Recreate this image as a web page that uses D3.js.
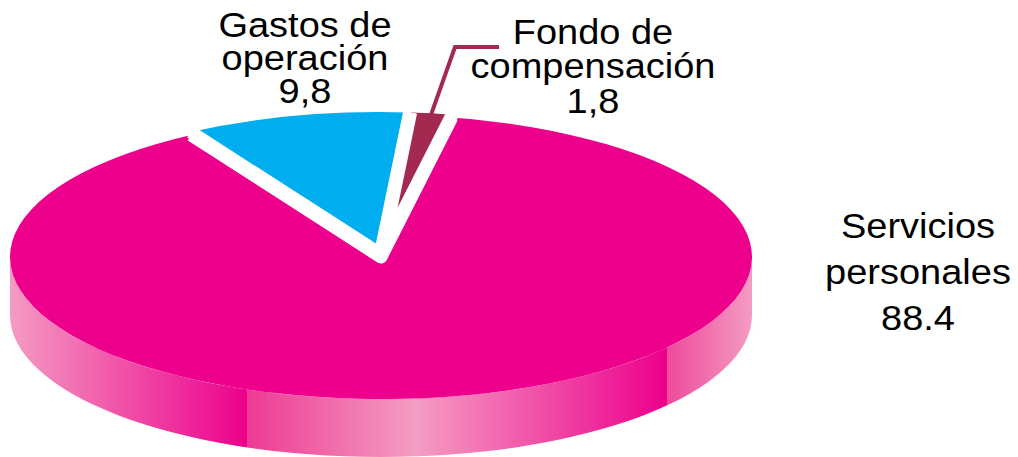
<!DOCTYPE html>
<html>
<head>
<meta charset="utf-8">
<title>Distribución del gasto</title>
<script src="https://d3js.org/d3.v7.min.js"></script>
<style>
  body { margin: 0; background: #fff; }
  text { font-family: "Liberation Sans", Arial, sans-serif; fill: #000; }
</style>
</head>
<body>
<svg id="chart" width="1018" height="457"></svg>
<script>
// data
const categories = ["Servicios personales", "Gastos de operación", "Fondo de compensación"];
const values = [88.4, 9.8, 1.8];
const valueLabels = ["88.4", "9,8", "1,8"];
const labelLines = [["Servicios", "personales"], ["Gastos de", "operación"], ["Fondo de", "compensación"]];
const colors = ["#EC008C", "#00AEEF", "#A2294F"];

const svg = d3.select("#chart");

// ellipse of the top face + thickness
const cx = 381, cy = 257, rx = 371, ry = 142, depth = 58;
const a0 = 11 * Math.PI / 180;

const pie = d3.pie().sort(null).value(d => d)
  .startAngle(a0).endAngle(a0 + 2 * Math.PI);
const arcs = pie(values);

function pt(a, r = 1) {
  return [cx + rx * r * Math.sin(a), cy - ry * r * Math.cos(a)];
}

// small slices pulled out a little
const explode = [0, 3, 3];
arcs.forEach((d, i) => {
  const mid = (d.startAngle + d.endAngle) / 2;
  d.mid = mid;
  d.off = [explode[i] * Math.sin(mid), -explode[i] * Math.cos(mid)];
});

// side gradient (shaded bands like the original)
const defs = svg.append("defs");
const grad = defs.append("linearGradient")
  .attr("id", "sideGrad")
  .attr("gradientUnits", "userSpaceOnUse")
  .attr("x1", cx - rx).attr("x2", cx + rx).attr("y1", 0).attr("y2", 0);
[
  [0, "#F49BC2"], [0.32, "#EC008C"], [0.32, "#EE3A93"],
  [0.546, "#F49DC3"], [0.885, "#EC008C"], [0.885, "#EE4A9B"], [1, "#F49BC2"]
].forEach(s => grad.append("stop").attr("offset", s[0]).attr("stop-color", s[1]));

function sidePath(s, e) {
  const p0 = pt(s), p1 = pt(e);
  return `M${p0}A${rx},${ry} 0 0 1 ${p1}L${p1[0]},${p1[1] + depth}` +
    `A${rx},${ry} 0 0 0 ${p0[0]},${p0[1] + depth}Z`;
}

// sides: only the front half is visible
const front = [Math.PI / 2, 3 * Math.PI / 2];
arcs.forEach((d, i) => {
  [0, -2 * Math.PI].forEach(shift => {
    const s = Math.max(d.startAngle + shift, front[0]);
    const e = Math.min(d.endAngle + shift, front[1]);
    if (e > s) {
      svg.append("path")
        .attr("transform", `translate(${d.off})`)
        .attr("d", sidePath(s, e))
        .attr("fill", i === 0 ? "url(#sideGrad)" : d3.color(colors[i]).darker(0.6));
    }
  });
});

// top faces
function topPath(d) {
  const p0 = pt(d.startAngle), p1 = pt(d.endAngle);
  const large = d.endAngle - d.startAngle > Math.PI ? 1 : 0;
  return `M${cx},${cy}L${p0}A${rx},${ry} 0 ${large} 1 ${p1}Z`;
}

svg.selectAll("path.top")
  .data(arcs)
  .join("path")
  .attr("class", "top")
  .attr("transform", d => `translate(${d.off})`)
  .attr("d", topPath)
  .attr("fill", (d, i) => colors[i]);

// white borders along the radial edges
svg.selectAll("path.edge")
  .data(arcs)
  .join("path")
  .attr("class", "edge")
  .attr("transform", d => `translate(${d.off})`)
  .attr("d", d => `M${pt(d.startAngle)}L${cx},${cy}L${pt(d.endAngle)}`)
  .attr("fill", "none")
  .attr("stroke", "#fff")
  .attr("stroke-width", 13)
  .attr("stroke-linejoin", "round");

// leader line for the small slice
const fondo = arcs[2];
const end = pt(fondo.mid, 0.97).map((v, k) => v + fondo.off[k]);
const elbow = [end[0] + 25, 47];
svg.append("path")
  .attr("d", `M${elbow[0] + 44},47L${elbow}L${end}`)
  .attr("fill", "none")
  .attr("stroke", colors[2])
  .attr("stroke-width", 4);

// labels (the original type is slightly wide)
const labelPos = [
  { x: 918, y: 238, step: 46 },
  { x: 305, y: 37, step: 33 },
  { x: 593, y: 44, step: 34.5 }
];

categories.forEach((c, i) => {
  const t = svg.append("text")
    .attr("text-anchor", "middle")
    .attr("font-size", 35.5)
    .attr("transform", `translate(${labelPos[i].x},0) scale(1.07,1)`);
  labelLines[i].concat([valueLabels[i]]).forEach((line, k) => {
    t.append("tspan")
      .attr("x", 0)
      .attr("y", labelPos[i].y + k * labelPos[i].step)
      .text(line);
  });
});
</script>
</body>
</html>
